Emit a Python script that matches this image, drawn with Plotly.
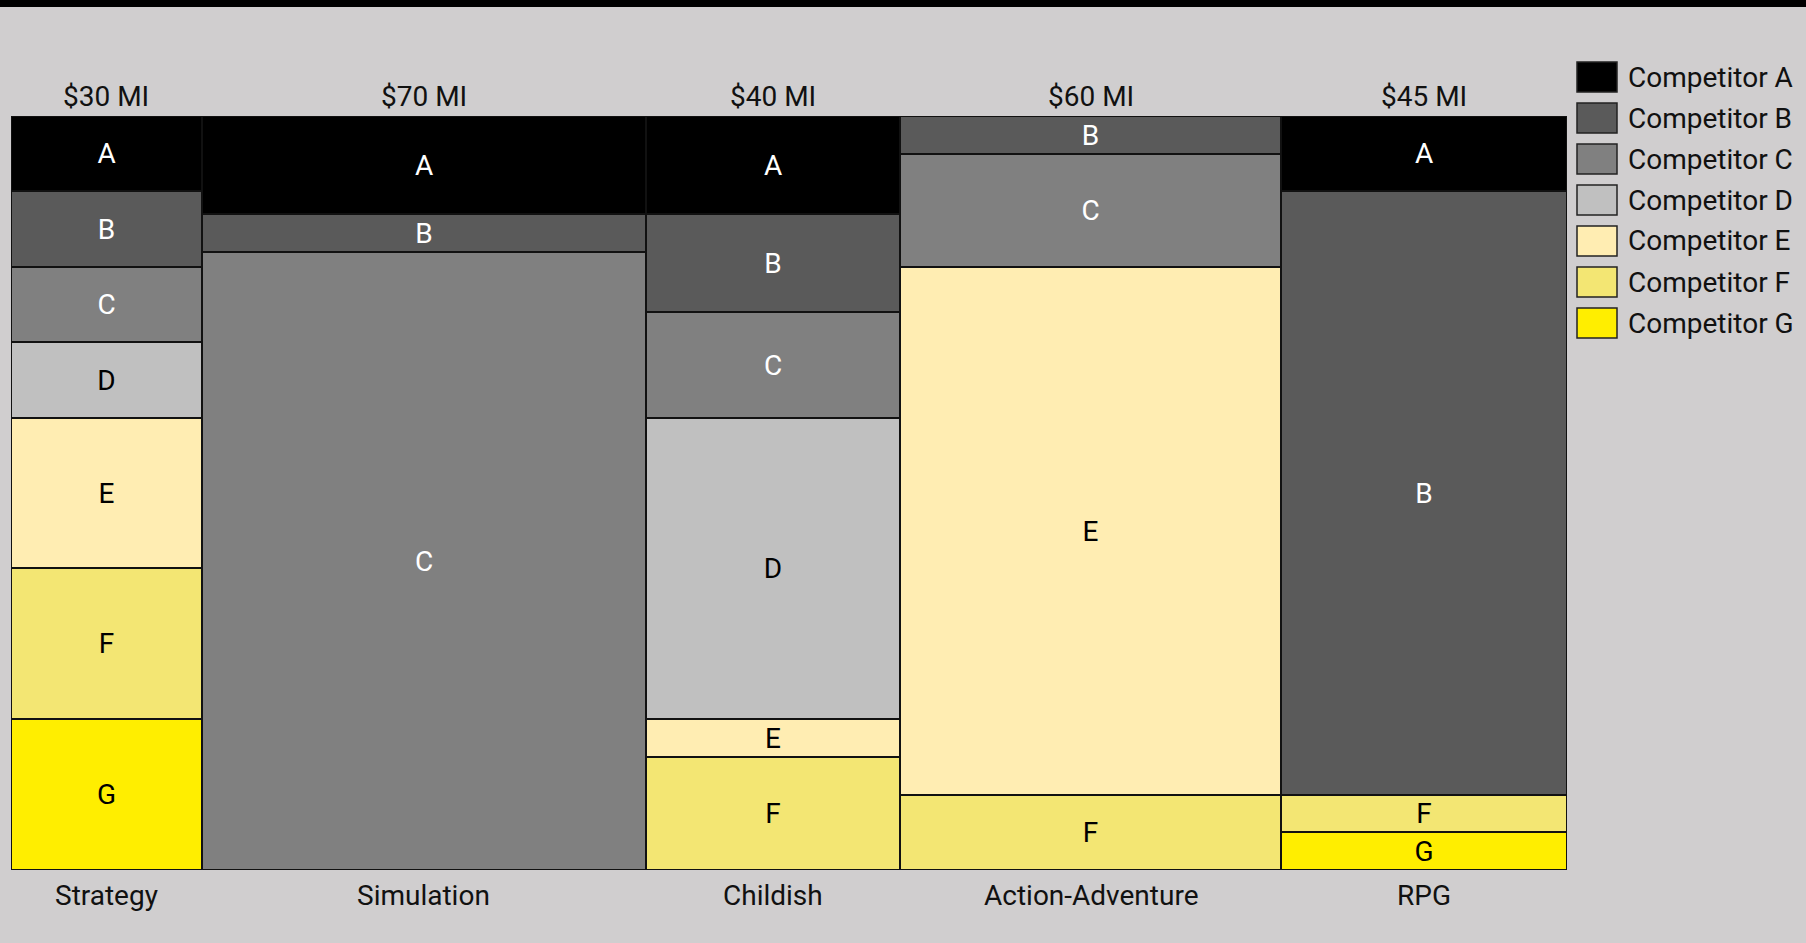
import plotly.graph_objects as go

# Market segments and their total size (millions of dollars)
categories = ["Strategy", "Simulation", "Childish", "Action-Adventure", "RPG"]
market_size = [30, 70, 40, 60, 45]
size_labels = ["$30 MI", "$70 MI", "$40 MI", "$60 MI", "$45 MI"]

# Share of each segment held by each competitor (%); None = not present
competitors = ["Competitor A", "Competitor B", "Competitor C", "Competitor D",
               "Competitor E", "Competitor F", "Competitor G"]
short_names = ["A", "B", "C", "D", "E", "F", "G"]
share_a = [10, 13, 13, None, 10]
share_b = [10, 5, 13, 5, 80]
share_c = [10, 82, 14, 15, None]
share_d = [10, None, 40, None, None]
share_e = [20, None, 5, 70, None]
share_f = [20, None, 15, 10, 5]
share_g = [20, None, None, None, 5]
shares = [share_a, share_b, share_c, share_d, share_e, share_f, share_g]

fills = ["#000000", "#5a5a5a", "#808080", "#c0c0c0", "#ffedb2", "#f3e673", "#ffee00"]
label_colors = ["#ffffff", "#ffffff", "#ffffff", "#000000", "#000000", "#000000", "#000000"]

FONT = "Roboto"
FS = 28
BG = "#d0cecf"
EDGE = "#111111"

# Column geometry on a numeric x axis: width = market size
lefts = []
acc = 0
for m in market_size:
    lefts.append(acc)
    acc += m
total = acc
centers = [l + m / 2 for l, m in zip(lefts, market_size)]

W, H = 1806, 943
ML, MR, MT, MB = 11, 239, 116, 73
PW, PH = W - ML - MR, H - MT - MB

fig = go.Figure()

# Stack from the bottom (G) up to the top (A)
for idx in reversed(range(len(competitors))):
    vals = shares[idx]
    xs = [c for c, v in zip(centers, vals) if v is not None]
    ws = [m for m, v in zip(market_size, vals) if v is not None]
    ys = [v for v in vals if v is not None]
    fig.add_trace(go.Bar(
        x=xs, y=ys, width=ws,
        name=competitors[idx],
        marker=dict(color=fills[idx], line=dict(color=EDGE, width=2)),
        text=[short_names[idx]] * len(ys),
        textposition="inside",
        insidetextanchor="middle",
        textangle=0,
        textfont=dict(family=FONT, size=FS, color=label_colors[idx]),
        hoverinfo="skip",
        showlegend=False,
    ))

# Market size above each column, segment name below
for c, lab, cat in zip(centers, size_labels, categories):
    fig.add_annotation(x=c, y=1, xref="x", yref="paper", text=lab,
                       showarrow=False, yanchor="middle", yshift=20,
                       font=dict(family=FONT, size=FS, color="#111111"))
    fig.add_annotation(x=c, y=0, xref="x", yref="paper", text=cat,
                       showarrow=False, yanchor="middle", yshift=-25,
                       font=dict(family=FONT, size=FS, color="#111111"))


def py(pix):
    """Page pixel row -> paper y."""
    return (H - MB - pix) / PH


def px(pix):
    """Page pixel column -> paper x."""
    return (pix - ML) / PW


shapes = [
    # dark strip along the top edge
    dict(type="rect", xref="paper", yref="paper",
         x0=px(-5), x1=px(W + 5), y0=py(7), y1=py(-5),
         fillcolor="#000000", line=dict(width=0), layer="above"),
]

# Legend: swatch + name per competitor
for i, name in enumerate(competitors):
    top = 62 + 41 * i
    shapes.append(dict(type="rect", xref="paper", yref="paper",
                       x0=px(1577), x1=px(1617), y0=py(top + 30), y1=py(top),
                       fillcolor=fills[i], line=dict(color="#222222", width=1.5)))
    fig.add_annotation(x=px(1626), y=py(top + 15), xref="paper", yref="paper",
                       text=name, showarrow=False, xanchor="left", yanchor="middle",
                       font=dict(family=FONT, size=FS, color="#111111"))

fig.update_layout(
    width=W, height=H,
    margin=dict(l=ML, r=MR, t=MT, b=MB, pad=0),
    paper_bgcolor=BG, plot_bgcolor=BG,
    barmode="stack", bargap=0,
    uniformtext=dict(minsize=FS, mode="show"),
    showlegend=False,
    shapes=shapes,
    xaxis=dict(range=[0, total], showgrid=False, zeroline=False, showline=False,
               showticklabels=False, ticks="", fixedrange=True),
    yaxis=dict(range=[0, 100], showgrid=False, zeroline=False, showline=False,
               showticklabels=False, ticks="", fixedrange=True),
    font=dict(family=FONT),
)

fig.write_html("out.html", config={"displayModeBar": False})
